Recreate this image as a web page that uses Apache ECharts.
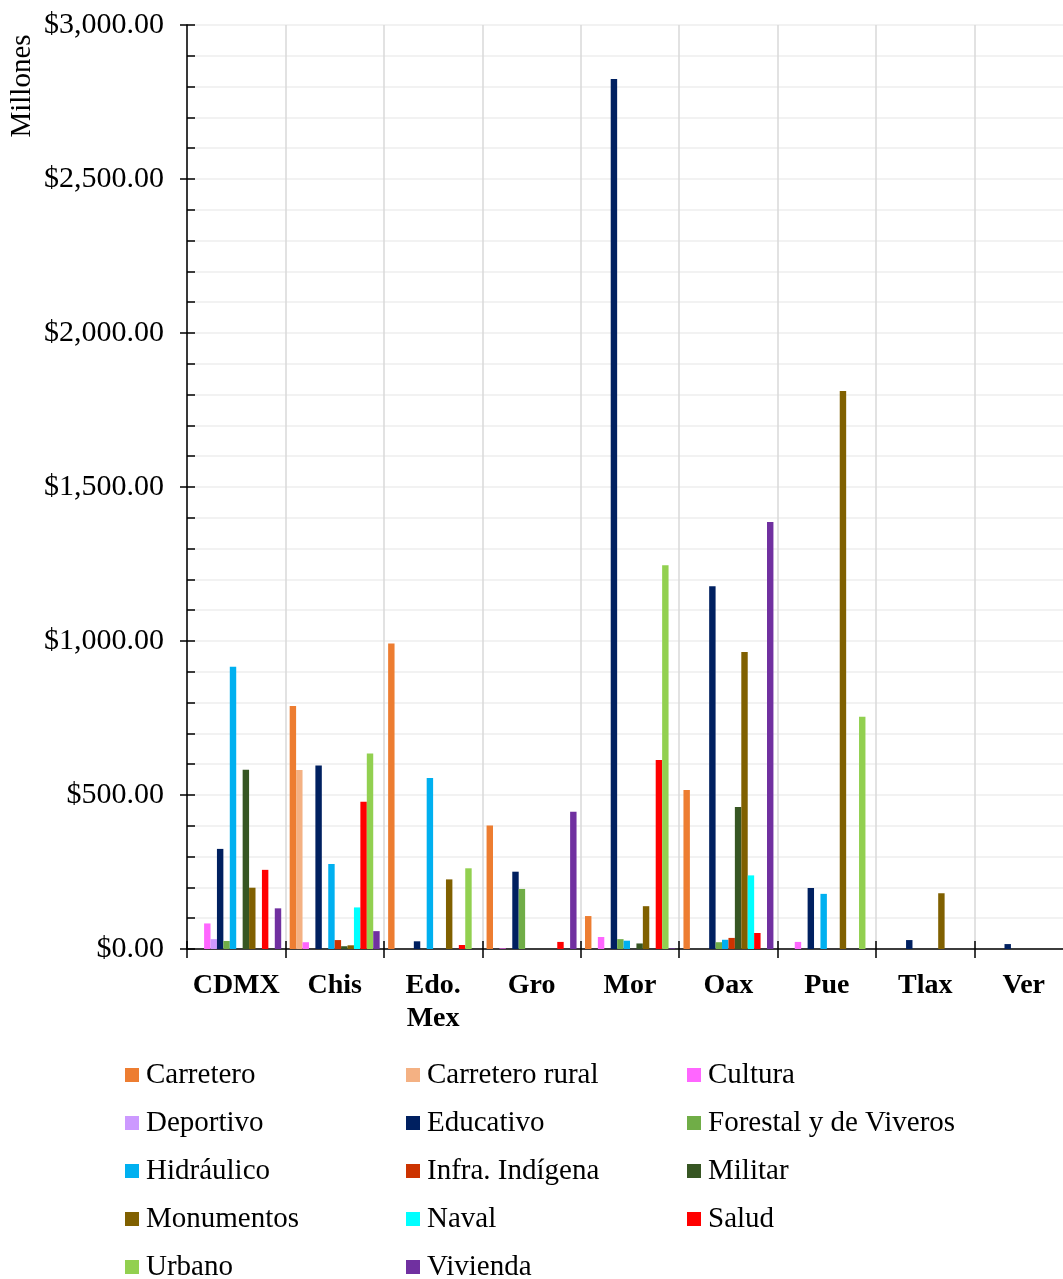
<!DOCTYPE html>
<html>
<head>
<meta charset="utf-8">
<script src="https://cdn.jsdelivr.net/npm/echarts@6/dist/echarts.min.js"></script>
<style>html,body{margin:0;padding:0;background:#fff}#c{width:1063px;height:1279px}</style>
</head>
<body>
<div id="c"></div>
<script>
const categories = ['CDMX', 'Chis', 'Edo.\nMex', 'Gro', 'Mor', 'Oax', 'Pue', 'Tlax', 'Ver'];
const seriesNames = ['Carretero', 'Carretero rural', 'Cultura', 'Deportivo', 'Educativo', 'Forestal y de Viveros', 'Hidráulico', 'Infra. Indígena', 'Militar', 'Monumentos', 'Naval', 'Salud', 'Urbano', 'Vivienda'];
const carretero      = [null, 789, 992, 401, 107, 516, null, null, null];
const carreteroRural = [null, 581, null, null, null, null, null, null, null];
const cultura        = [83, 22, null, 2, 39, null, 23, null, null];
const deportivo      = [32, null, null, null, null, null, null, null, null];
const educativo      = [325, 596, 25, 251, 2825, 1178, 198, 29, 16];
const forestal       = [26, null, null, 195, 32, 22, null, null, null];
const hidraulico     = [916, 276, 555, null, 27, 30, 179, null, null];
const infraIndigena  = [null, 29, null, null, null, 36, null, null, null];
const militar        = [582, 9, null, null, 18, 461, null, null, null];
const monumentos     = [199, 12, 226, null, 139, 964, 1812, 181, null];
const naval          = [null, 135, null, null, null, 239, null, null, null];
const salud          = [257, 478, 13, 23, 614, 52, null, null, null];
const urbano         = [null, 635, 262, null, 1246, null, 754, null, null];
const vivienda       = [132, 58, null, 446, 2, 1386, null, null, null];
const seriesData = [carretero, carreteroRural, cultura, deportivo, educativo, forestal, hidraulico, infraIndigena, militar, monumentos, naval, salud, urbano, vivienda];
const colors = ['#ED7D31', '#F4B183', '#FF66FF', '#CC99FF', '#002060', '#70AD47', '#00B0F0', '#CC3300', '#375623', '#806000', '#00FFFF', '#FF0000', '#92D050', '#7030A0'];

const FONT = '"Liberation Serif", "Times New Roman", serif';
function money(v) {
  const s = Math.round(v).toString().replace(/\B(?=(\d{3})+(?!\d))/g, ',');
  return '$' + s + '.00';
}

const chart = echarts.init(document.getElementById('c'), null, {renderer: 'canvas'});
const legendX = [125, 406, 687];
const legends = seriesNames.map((name, i) => ({
  orient: 'horizontal', left: legendX[i % 3], top: 1060 + 48 * Math.floor(i / 3), padding: 0,
  data: [name], icon: 'rect', itemWidth: 14, itemHeight: 14,
  textStyle: {fontFamily: FONT, fontSize: 29, color: '#000', lineHeight: 30, padding: [0, 0, 0, 2]}
}));
const option = {
  animation: false,
  backgroundColor: '#fff',
  color: colors,
  textStyle: {fontFamily: FONT, color: '#000'},
  grid: {left: 187, width: 886, top: 25, bottom: 330, containLabel: false, outerBoundsMode: 'none'},
  graphic: [{
    type: 'text', x: 22, y: 86, rotation: Math.PI / 2,
    style: {text: 'Millones', fill: '#000', font: '29px ' + FONT, textAlign: 'center', textVerticalAlign: 'middle'}
  }],
  legend: legends,
  xAxis: [{
    type: 'category', data: categories, position: 'bottom',
    axisLine: {show: true, lineStyle: {color: '#000', width: 1.5}},
    axisTick: {show: true, inside: false, length: 9, interval: 0, lineStyle: {color: '#000', width: 1.5}},
    axisLabel: {interval: 0, margin: 20, fontFamily: FONT, fontSize: 28, fontWeight: 'bold', color: '#000', lineHeight: 33},
    splitLine: {show: true, interval: 0, lineStyle: {color: '#d9d9d9', width: 1.5}}
  }, {
    type: 'category', data: categories, position: 'bottom',
    axisLine: {show: false},
    axisTick: {show: true, inside: true, length: 8, interval: 0, lineStyle: {color: '#000', width: 1.5}},
    axisLabel: {show: false},
    splitLine: {show: false}
  }],
  yAxis: [{
    type: 'value', min: 0, max: 3000, interval: 500, position: 'left',
    axisLine: {show: true, lineStyle: {color: '#000', width: 1.5}},
    axisTick: {show: true, inside: false, length: 7, lineStyle: {color: '#000', width: 1.5}},
    axisLabel: {formatter: money, margin: 23, fontFamily: FONT, fontSize: 30, color: '#000'},
    splitLine: {show: true, lineStyle: {color: '#eeeeee', width: 1.5}},
    minorTick: {show: false, splitNumber: 5},
    minorSplitLine: {show: true, lineStyle: {color: '#eeeeee', width: 1.5}}
  }, {
    type: 'value', min: 0, max: 3000, interval: 500, position: 'left',
    axisLine: {show: false},
    axisTick: {show: true, inside: true, length: 8, lineStyle: {color: '#000', width: 1.5}},
    minorTick: {show: true, splitNumber: 5, length: 8, lineStyle: {color: '#000', width: 1.5}},
    axisLabel: {show: false},
    splitLine: {show: false}
  }],
  series: seriesNames.map((name, i) => ({
    name: name, type: 'bar', xAxisIndex: 0, yAxisIndex: 0,
    data: seriesData[i],
    barGap: '0%', barCategoryGap: '8.6%',
    itemStyle: {color: colors[i]}
  }))
};
chart.setOption(option);
</script>
</body>
</html>
